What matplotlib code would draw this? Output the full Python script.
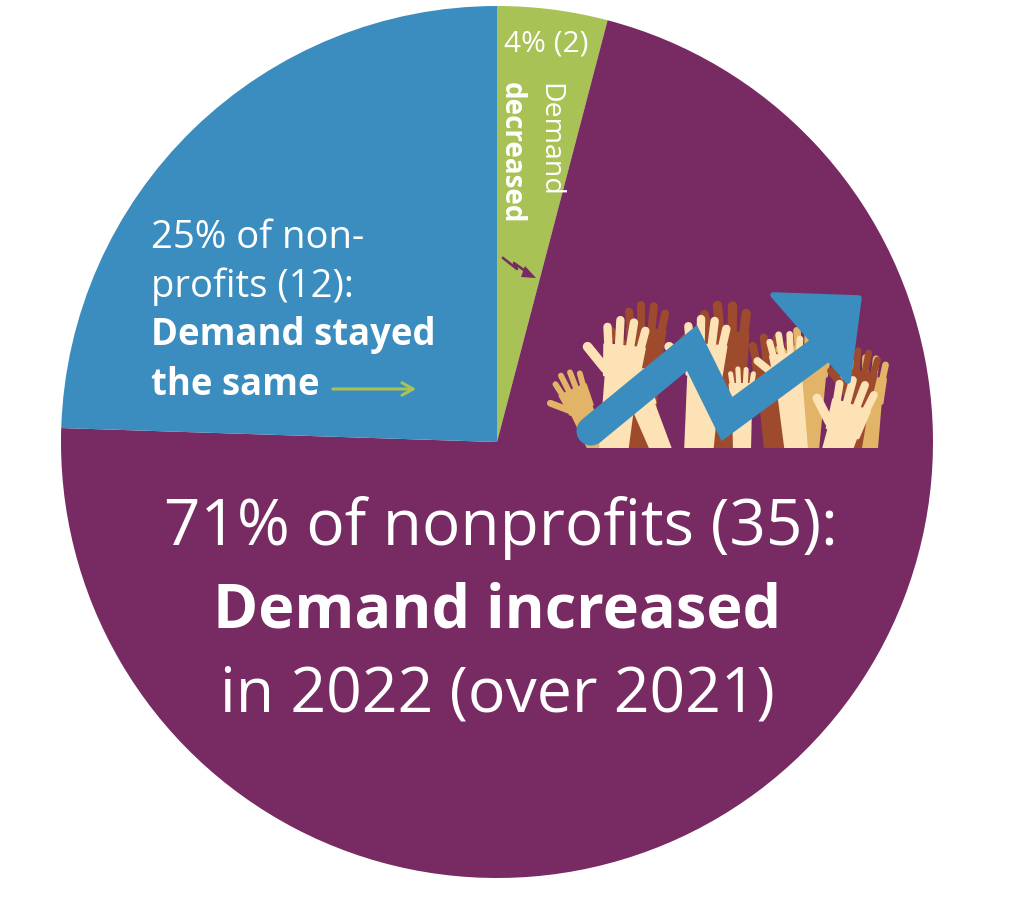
import numpy as np
import matplotlib
matplotlib.use("Agg")
import matplotlib.pyplot as plt
from matplotlib.patches import Polygon, Rectangle

# ---- data ----
categories = ["Demand decreased", "Demand increased", "Demand stayed the same"]
counts = [2, 35, 12]
percents = ["4%", "71%", "25%"]

BLUE = "#3A8DBE"
GREEN = "#A8C256"
PURPLE = "#782A62"
CREAM = "#FCE2B4"
TAN = "#E2B467"
BROWN = "#9E4A2D"
colors = [GREEN, PURPLE, BLUE]

W, H = 1024, 903
FONT = ["Open Sans", "DejaVu Sans"]

fig = plt.figure(figsize=(W / 100, H / 100), dpi=100)
ax = fig.add_axes([0, 0, 1, 1])


def P(x, y):
    return (x, H - y)


ax.pie(counts, colors=colors, startangle=90, counterclock=False,
       center=P(497, 443), radius=436,
       wedgeprops=dict(linewidth=0, antialiased=True))
ax.set_xlim(0, W)
ax.set_ylim(0, H)
ax.set_aspect("equal")
ax.axis("off")


# ---- hands illustration (decoration) ----
def rot(u, v, t):
    c, s = np.cos(t), np.sin(t)
    return u * c - v * s, u * s + v * c


def hand(x0, base, top, w, tilt, color, z):
    t = np.deg2rad(tilt)
    Htot = base - top
    finger = 0.85 * w
    palm = 0.8 * w
    arm = max(Htot - finger - palm, 5)

    def T(u, v):
        ru, rv = rot(u, v, t)
        return (x0 + ru, H - base + rv)

    aw = 0.34 * w
    arm_poly = [T(-aw, -40), T(aw, -40), T(aw * 1.25, arm + 0.3 * palm), T(-aw * 1.25, arm + 0.3 * palm)]
    ax.add_patch(Polygon(arm_poly, closed=True, fc=color, ec="none", zorder=z))
    palm_poly = [T(-0.43 * w, arm + 0.05 * palm), T(0.43 * w, arm + 0.05 * palm),
                 T(0.5 * w, arm + palm), T(-0.5 * w, arm + palm)]
    ax.add_patch(Polygon(palm_poly, closed=True, fc=color, ec=color, lw=2,
                         joinstyle="round", zorder=z))
    fw = 0.21 * w * 0.72
    specs = [(-0.38, 0.72, -9), (-0.13, 0.95, -3), (0.13, 0.92, 3), (0.38, 0.72, 9)]
    for uu, ll, ang in specs:
        a = np.deg2rad(ang)
        su, sv = uu * w, arm + palm * 0.8
        eu = su + np.sin(a) * ll * finger
        ev = sv + np.cos(a) * ll * finger
        p1, p2 = T(su, sv), T(eu, ev)
        ax.plot([p1[0], p2[0]], [p1[1], p2[1]], color=color, lw=fw,
                solid_capstyle="round", zorder=z)
    # thumb
    su, sv = -0.42 * w, arm + 0.25 * palm
    eu, ev = su - 0.5 * w, sv + 0.5 * w
    p1, p2 = T(su, sv), T(eu, ev)
    ax.plot([p1[0], p2[0]], [p1[1], p2[1]], color=color, lw=fw * 1.15,
            solid_capstyle="round", zorder=z)


base = 448
back = [(598, 362, 28, 24, TAN), (640, 298, 38, -3, BROWN), (730, 297, 44, 2, BROWN),
        (778, 330, 38, 4, BROWN), (806, 318, 36, -4, TAN), (866, 352, 32, -3, TAN),
        (850, 345, 32, -8, BROWN)]
front = [(614, 313, 40, -6, CREAM), (660, 360, 28, 22, CREAM), (699, 312, 40, -4, CREAM),
         (742, 365, 24, 0, CREAM), (796, 328, 32, 6, CREAM), (838, 372, 38, -18, CREAM)]
for (x, tp, w, tl, c) in back:
    hand(x, base, tp, w, tl, c, 3)
for (x, tp, w, tl, c) in front:
    hand(x, base, tp, w, tl, c, 4)
# clip flat bottom
ax.add_patch(Rectangle(P(560, 500), 340, 51.5, fc=PURPLE, ec="none", zorder=5))

# big blue arrow
pts = [(591, 432), (692, 349), (727, 420), (818, 353)]
ax.plot([p[0] for p in pts], [H - p[1] for p in pts], color=BLUE, lw=21,
        solid_capstyle="round", solid_joinstyle="miter", zorder=6)
ax.add_patch(Polygon([P(773, 296), P(859, 299), P(848, 382)], closed=True,
                     fc=BLUE, ec=BLUE, lw=4, joinstyle="round", zorder=6))

# small zigzag arrow in green slice
zz = [(503, 259), (517, 270), (514, 264), (528, 274)]
ax.plot([p[0] for p in zz], [H - p[1] for p in zz], color=PURPLE, lw=1.8, zorder=6)
ax.add_patch(Polygon([P(525, 267), P(536, 279), P(521, 278)], closed=True,
                     fc=PURPLE, ec="none", zorder=6))

# green arrow in blue slice
ax.annotate("", xy=P(419, 390), xytext=P(330, 390),
            arrowprops=dict(arrowstyle="->,head_length=0.8,head_width=0.45", color=GREEN, lw=2.2),
            zorder=6)

# ---- texts ----
tk = dict(color="white", family=FONT, zorder=7)
ax.text(*P(151, 238), f"{percents[2]} of non-", fontsize=27.5, ha="left", va="center", **tk)
ax.text(*P(151, 287), f"profits ({counts[2]}):", fontsize=27.5, ha="left", va="center", **tk)
ax.text(*P(151, 335), "Demand stayed", fontsize=26.3, fontweight="bold", ha="left", va="center", **tk)
ax.text(*P(151, 385), "the same", fontsize=26.3, fontweight="bold", ha="left", va="center", **tk)

ax.text(*P(501, 528), f"{percents[1]} of nonprofits ({counts[1]}):", fontsize=46,
        ha="center", va="center", **tk)
ax.text(*P(497, 612), "Demand increased", fontsize=44, fontweight="bold",
        ha="center", va="center", **tk)
ax.text(*P(497, 695), "in 2022 (over 2021)", fontsize=45, ha="center", va="center", **tk)

ax.text(*P(546, 44), f"{percents[0]} ({counts[0]})", fontsize=21.5, ha="center", va="center", **tk)
ax.text(*P(549, 140), "Demand", fontsize=20.5, rotation=-90, ha="center", va="center", **tk)
ax.text(*P(511, 153), "decreased", fontsize=20, fontweight="bold", rotation=-90,
        ha="center", va="center", **tk)

fig.savefig("out.png", dpi=100)
